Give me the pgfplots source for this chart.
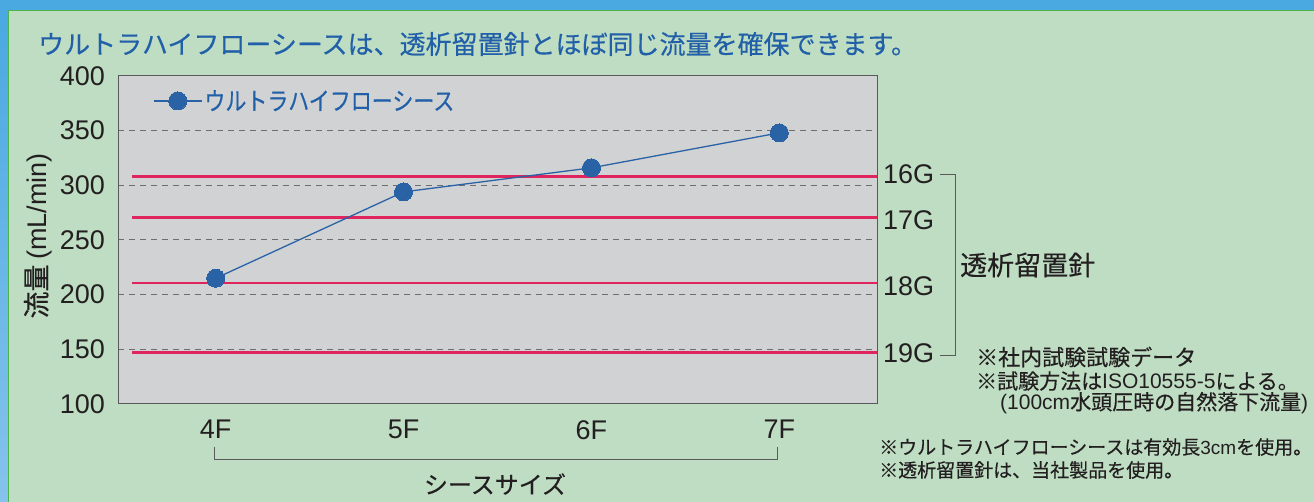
\documentclass[border=0pt]{standalone}
\usepackage{pgfplots}
\pgfplotsset{compat=1.18}
\usepackage{fontspec}
\setmainfont{Liberation Sans}
\newfontfamily\cjk[FakeBold=0.35]{Noto Sans CJK JP}
\definecolor{bgG}{HTML}{BEDDC3}
\definecolor{frameB}{HTML}{4AA9E1}
\definecolor{frameB2}{HTML}{86C3EC}
\definecolor{plotG}{HTML}{D1D2D4}
\definecolor{titleB}{HTML}{2160A8}
\definecolor{lineB}{HTML}{2A62A6}
\definecolor{redL}{HTML}{E0245E}
\definecolor{txt}{HTML}{231F20}
\definecolor{axG}{HTML}{58595B}
\definecolor{gridG}{HTML}{6D6E71}
\newcommand{\fs}[1]{\fontsize{#1}{#1}\selectfont}
\begin{document}
\begin{tikzpicture}[x=1pt,y=1pt]
\path[use as bounding box] (0,0) rectangle (1314,502);
\fill[frameB] (0,0) rectangle (1314,502);
\shade[top color=frameB, bottom color=frameB2] (0,0) rectangle (8,492);
\fill[bgG] (8,0) rectangle (1314,492);
\draw[color=green!40!gray, line width=0.8pt] (8,0) -- (8,492) -- (1314,492);
\node[anchor=west, inner sep=0pt, text=titleB] at (38,458) {\cjk\fs{26}ウルトラハイフローシースは、透析留置針とほぼ同じ流量を確保できます。};
\begin{axis}[
  at={(118pt,98pt)}, anchor=south west, scale only axis,
  width=759pt, height=328pt,
  xmin=-0.52, xmax=3.52, ymin=100, ymax=400,
  axis background/.style={fill=plotG},
  axis line style={axG, line width=1pt},
  xtick={0,1,2,3}, xticklabels={4F,5F,6F,7F},
  ytick={100,150,...,400},
  major tick length=0pt,
  /pgf/number format/assume math mode=true,
  ticklabel style={font=\fs{27}, text=txt, inner sep=0pt},
  yticklabel style={xshift=-13pt},
  xticklabel style={yshift=-16pt},
  ymajorgrids,
  grid style={gridG, dash pattern=on 6pt off 5pt, line width=1pt},
  clip=false,
  legend style={draw=none, fill=none, inner sep=0pt, at={(0.046,0.924)}, anchor=west,
    font=\cjk\fs{25}, text=titleB, /tikz/every even column/.append style={column sep=5pt}},
  legend cell align=left,
  legend image code/.code={\draw[mark repeat=2,mark phase=2,#1] plot coordinates {(0pt,0pt) (24pt,0pt) (48pt,0pt)};},
]
\addplot[redL, line width=2.6pt, forget plot] coordinates {(-0.4455,308.3) (3.52,308.3)};
\addplot[redL, line width=2.6pt, forget plot] coordinates {(-0.4455,270.8) (3.52,270.8)};
\addplot[redL, line width=2.6pt, forget plot] coordinates {(-0.4455,210.7) (3.52,210.7)};
\addplot[redL, line width=2.6pt, forget plot] coordinates {(-0.4455,147.0) (3.52,147.0)};
\addplot[lineB, line width=1.3pt, mark=*, mark size=9pt, mark options={fill=lineB, draw=lineB, line width=0pt}]
  coordinates {(0,215) (1,294) (2,316) (3,348)};
\addlegendentry{\scalebox{0.84}[1]{ウルトラハイフローシース}}
\end{axis}
% right labels
\node[anchor=west, inner sep=0pt, text=txt] at (883,328) {\fs{27}16G};
\node[anchor=west, inner sep=0pt, text=txt] at (883,282) {\fs{27}17G};
\node[anchor=west, inner sep=0pt, text=txt] at (883,216) {\fs{27}18G};
\node[anchor=west, inner sep=0pt, text=txt] at (883,149) {\fs{27}19G};
\draw[axG, line width=0.8pt] (940,328) -- (955,328) -- (955,146.5) -- (940,146.5);
\node[anchor=west, inner sep=0pt, text=txt] at (960,237) {\cjk\fs{27}透析留置針};
% notes
\node[anchor=west, inner sep=0pt, text=txt] at (976,145) {\cjk\fs{22}※社内試験試験データ};
\node[anchor=west, inner sep=0pt, text=txt] at (976,121) {\fs{21}{\cjk ※試験方法は}ISO10555-5{\cjk による。}};
\node[anchor=west, inner sep=0pt, text=txt] at (1000,99) {\fs{21}(100cm{\cjk 水頭圧時の自然落下流量})};
\node[anchor=west, inner sep=0pt, text=txt] at (879,55) {\fs{19}{\cjk ※ウルトラハイフローシースは有効長}3cm{\cjk を使用。}};
\node[anchor=west, inner sep=0pt, text=txt] at (879,32) {\cjk\fs{19}※透析留置針は、当社製品を使用。};
% x bracket
\draw[axG, line width=0.8pt] (214,55) -- (214,43) -- (777,43) -- (777,55);
\node[inner sep=0pt, text=txt] at (495,18) {\cjk\fs{24}シースサイズ};
% y label
\node[rotate=90, inner sep=0pt, text=txt] at (38,266) {\fs{27}{\cjk 流量}\,(mL/min)};
\end{tikzpicture}
\end{document}
